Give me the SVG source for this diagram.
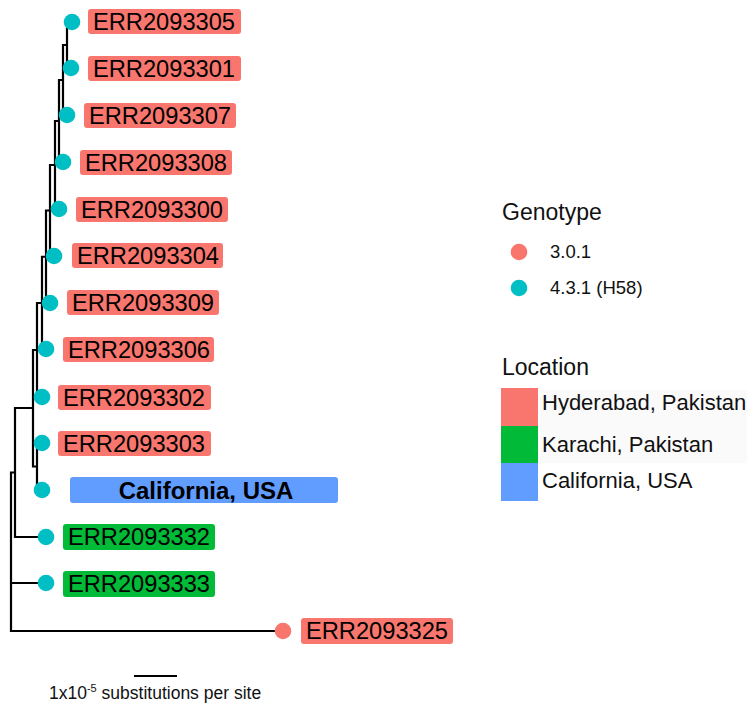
<svg xmlns="http://www.w3.org/2000/svg" width="747" height="705" viewBox="0 0 747 705">
<style>
.br{fill:none;stroke:#000;stroke-width:2.2;stroke-linecap:square}
.h{fill:#F8766D}.k{fill:#00BA38}.c{fill:#619CFF}
.tc{fill:#00BFC4}.tr{fill:#F8766D}
.lb{font-family:"Liberation Sans",Arial,sans-serif;font-size:23px;fill:#000}
.lg{font-family:"Liberation Sans",Arial,sans-serif;fill:#111}
</style>
<rect width="747" height="705" fill="#fff"/>
<g id="connectors">
<path class="br" d="M67 22V68M67 22H72M67 68H71
M63 45V115M63 45H67M63 115H67
M59 80V162M59 80H63M59 162H63
M55 121V209M55 121H59M55 209H59
M50 165V256M50 165H55M50 256H54
M46 210.5V303M46 210.5H50M46 303H50
M42 256.75V349M42 256.75H46M42 349H46
M37 303V397M37 303H42M37 397H42
M37 443V490M37 443H42M37 490H42
M33 350V466.5M33 350H37M33 466.5H37
M15 408V537M15 408H33M15 537H46
M11 472.5V631M11 472.5H15M11 583H46M11 631H283"/>
</g>
<g id="tip-ERR2093305"><circle class="tc" cx="72" cy="22" r="8.3"/><rect class="h" x="88" y="9" width="153" height="25" rx="3"/><text class="lb" x="93" y="30" textLength="142" lengthAdjust="spacingAndGlyphs">ERR2093305</text></g>
<g id="tip-ERR2093301"><circle class="tc" cx="71" cy="68" r="8.3"/><rect class="h" x="88" y="56" width="153" height="25" rx="3"/><text class="lb" x="93" y="77" textLength="142" lengthAdjust="spacingAndGlyphs">ERR2093301</text></g>
<g id="tip-ERR2093307"><circle class="tc" cx="67" cy="115" r="8.3"/><rect class="h" x="84" y="103" width="152" height="25" rx="3"/><text class="lb" x="89" y="124" textLength="142" lengthAdjust="spacingAndGlyphs">ERR2093307</text></g>
<g id="tip-ERR2093308"><circle class="tc" cx="63" cy="162" r="8.3"/><rect class="h" x="80" y="150" width="152" height="25" rx="3"/><text class="lb" x="85" y="171" textLength="142" lengthAdjust="spacingAndGlyphs">ERR2093308</text></g>
<g id="tip-ERR2093300"><circle class="tc" cx="59" cy="209" r="8.3"/><rect class="h" x="76" y="197" width="152" height="25" rx="3"/><text class="lb" x="81" y="218" textLength="142" lengthAdjust="spacingAndGlyphs">ERR2093300</text></g>
<g id="tip-ERR2093304"><circle class="tc" cx="54" cy="256" r="8.3"/><rect class="h" x="72" y="243" width="151" height="25" rx="3"/><text class="lb" x="77" y="264" textLength="142" lengthAdjust="spacingAndGlyphs">ERR2093304</text></g>
<g id="tip-ERR2093309"><circle class="tc" cx="50" cy="303" r="8.3"/><rect class="h" x="67" y="290" width="152" height="25" rx="3"/><text class="lb" x="72" y="311" textLength="142" lengthAdjust="spacingAndGlyphs">ERR2093309</text></g>
<g id="tip-ERR2093306"><circle class="tc" cx="46" cy="349" r="8.3"/><rect class="h" x="63" y="337" width="151" height="25" rx="3"/><text class="lb" x="68" y="358" textLength="142" lengthAdjust="spacingAndGlyphs">ERR2093306</text></g>
<g id="tip-ERR2093302"><circle class="tc" cx="42" cy="397" r="8.3"/><rect class="h" x="58" y="385" width="153" height="25" rx="3"/><text class="lb" x="63" y="406" textLength="142" lengthAdjust="spacingAndGlyphs">ERR2093302</text></g>
<g id="tip-ERR2093303"><circle class="tc" cx="42" cy="443" r="8.3"/><rect class="h" x="58" y="431" width="153" height="25" rx="3"/><text class="lb" x="63" y="452" textLength="142" lengthAdjust="spacingAndGlyphs">ERR2093303</text></g>
<g id="tip-California"><circle class="tc" cx="42" cy="490" r="8.3"/><rect class="c" x="70" y="477" width="268" height="26" rx="3"/><text class="lb" x="206" y="499" text-anchor="middle" font-weight="bold" style="font-size:24px">California, USA</text></g>
<g id="tip-ERR2093332"><circle class="tc" cx="46" cy="537" r="8.3"/><rect class="k" x="63" y="524" width="152" height="26" rx="3"/><text class="lb" x="68" y="545" textLength="142" lengthAdjust="spacingAndGlyphs">ERR2093332</text></g>
<g id="tip-ERR2093333"><circle class="tc" cx="46" cy="583" r="8.3"/><rect class="k" x="63" y="571" width="152" height="26" rx="3"/><text class="lb" x="68" y="592" textLength="142" lengthAdjust="spacingAndGlyphs">ERR2093333</text></g>
<g id="tip-ERR2093325"><circle class="tr" cx="283" cy="631" r="8.3"/><rect class="h" x="301" y="618" width="152" height="26" rx="3"/><text class="lb" x="306" y="639" textLength="142" lengthAdjust="spacingAndGlyphs">ERR2093325</text></g>
<g id="scale-bar">
<line x1="134" y1="676" x2="177" y2="676" stroke="#000" stroke-width="2.2"/>
<text class="lg" x="49" y="699" style="font-size:17.5px">1x10<tspan dy="-7" style="font-size:11px">-5</tspan><tspan dy="7"> substitutions per site</tspan></text>
</g>
<g id="legend-genotype">
<text class="lg" x="502" y="220" style="font-size:23px">Genotype</text>
<circle class="tr" cx="519" cy="252" r="8.3"/>
<text class="lg" x="550" y="258" style="font-size:18.5px">3.0.1</text>
<circle class="tc" cx="519" cy="288" r="8.3"/>
<text class="lg" x="550" y="294" style="font-size:18.5px">4.3.1 (H58)</text>
</g>
<g id="legend-location">
<text class="lg" x="502" y="375" style="font-size:23px">Location</text>
<rect x="540" y="390" width="207" height="73" fill="#fafafa"/>
<rect class="h" x="501" y="388" width="37" height="38"/>
<rect class="k" x="501" y="426" width="37" height="37"/>
<rect class="c" x="501" y="463" width="37" height="38"/>
<text class="lg" x="542" y="410" style="font-size:22px">Hyderabad, Pakistan</text>
<text class="lg" x="542" y="452" style="font-size:22px">Karachi, Pakistan</text>
<text class="lg" x="542" y="488" style="font-size:22px">California, USA</text>
</g>
</svg>
